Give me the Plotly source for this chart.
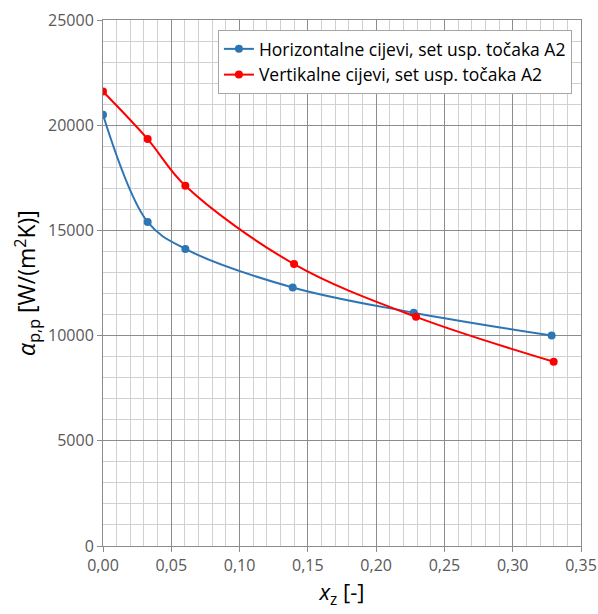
import plotly.graph_objects as go

# Data
x_horiz = [0.0, 0.0327, 0.0603, 0.1389, 0.2275, 0.3285]
y_horiz = [20500, 15400, 14120, 12290, 11090, 10000]
x_vert = [0.0, 0.0327, 0.0603, 0.1399, 0.2292, 0.3300]
y_vert = [21600, 19340, 17120, 13400, 10890, 8760]

name_horiz = "Horizontalne cijevi, set usp. točaka A2"
name_vert = "Vertikalne cijevi, set usp. točaka A2"

x_tickvals = [0.0, 0.05, 0.10, 0.15, 0.20, 0.25, 0.30, 0.35]
x_ticktext = ["0,00", "0,05", "0,10", "0,15", "0,20", "0,25", "0,30", "0,35"]
y_tickvals = [0, 5000, 10000, 15000, 20000, 25000]
y_ticktext = ["0", "5000", "10000", "15000", "20000", "25000"]

FONT = "Open Sans"
BLUE = "#2E75B6"
RED = "#FF0000"

fig = go.Figure()
fig.add_trace(go.Scatter(
    x=x_horiz, y=y_horiz, name=name_horiz, mode="lines+markers",
    line=dict(color=BLUE, width=2, shape="spline", smoothing=1.0),
    marker=dict(color=BLUE, size=8),
))
fig.add_trace(go.Scatter(
    x=x_vert, y=y_vert, name=name_vert, mode="lines+markers",
    line=dict(color=RED, width=2, shape="spline", smoothing=1.0),
    marker=dict(color=RED, size=8),
))

fig.update_layout(
    width=598, height=614,
    margin=dict(l=103, r=17, t=20, b=68),
    paper_bgcolor="white", plot_bgcolor="white",
    font=dict(family=FONT, color="#595959", size=16),
    legend=dict(
        x=0.981, y=0.981, xanchor="right", yanchor="top",
        bgcolor="white", bordercolor="#A6A6A6", borderwidth=1,
        font=dict(family=FONT, size=17.5, color="#000000"),
        tracegroupgap=0, itemwidth=30,
    ),
    showlegend=True,
)

fig.update_xaxes(
    range=[0, 0.35], tickvals=x_tickvals, ticktext=x_ticktext,
    automargin=False,
    showgrid=True, gridcolor="#8C8C8C", gridwidth=1,
    minor=dict(dtick=0.01, showgrid=True, gridcolor="#D0D0D0", gridwidth=1),
    showline=True, linecolor="#8C8C8C", linewidth=1, mirror=True,
    ticks="outside", ticklen=5, tickcolor="#8C8C8C",
    zeroline=False,
    tickfont=dict(family=FONT, size=16, color="#595959"),
    title=dict(text="<i>x</i><sub>z</sub> [-]", font=dict(family=FONT, size=22, color="#000000"), standoff=8),
)
fig.update_yaxes(
    range=[0, 25000], tickvals=y_tickvals, ticktext=y_ticktext,
    automargin=False,
    showgrid=True, gridcolor="#8C8C8C", gridwidth=1,
    minor=dict(dtick=1000, showgrid=True, gridcolor="#D0D0D0", gridwidth=1),
    showline=True, linecolor="#8C8C8C", linewidth=1, mirror=True,
    ticks="outside", ticklen=5, tickcolor="#8C8C8C",
    zeroline=False,
    tickfont=dict(family=FONT, size=16, color="#595959"),
    title=dict(text="<i>α</i><sub>p,p</sub> [W/(m<sup>2</sup>K)]", font=dict(family=FONT, size=23, color="#000000"), standoff=5),
)

# remove the default 8px page margin so the figure sits at the window's top-left corner
fig.write_html(
    "out.html",
    config={"displayModeBar": False},
    post_script="document.body.style.margin='0';",
)
